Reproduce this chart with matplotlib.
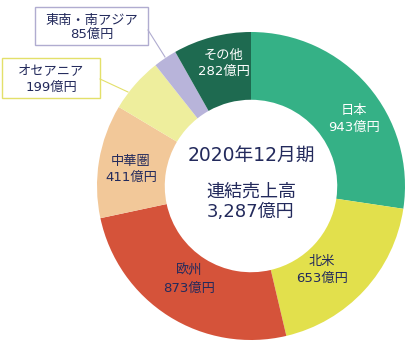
import matplotlib.pyplot as plt
from matplotlib.patches import Rectangle

# DejaVu for the wide latin digits, Noto CJK for the kanji / kana
plt.rcParams['font.family'] = ['DejaVu Sans', 'Noto Sans CJK JP']

# Sales by region (億円)
regions = ['日本', '北米', '欧州', '中華圏', 'オセアニア', '東南・南アジア', 'その他']
sales = [943, 653, 873, 411, 199, 85, 282]
colors = ['#35b186', '#e2e04c', '#d5533a', '#f2c899', '#eeee9d', '#b8b4da', '#1e6a50']
text_colors = ['white', '#232a5c', '#232a5c', '#232a5c', '#232a5c', '#232a5c', 'white']

W, H = 410, 347
fig = plt.figure(figsize=(W / 100, H / 100), dpi=100)
ax = fig.add_axes([0, 0, 1, 1])

cx, cy, R = 251, H - 186, 154
ax.pie(sales, colors=colors, startangle=90, counterclock=False,
       center=(cx, cy), radius=R, wedgeprops=dict(width=R * 0.44, linewidth=0))
ax.set_xlim(0, W)
ax.set_ylim(0, H)
ax.set_aspect('auto')
ax.axis('off')

navy = '#232a5c'


def two_lines(x, y1, y2, i, color):
    ax.text(x, H - y1, regions[i], ha='center', va='center', fontsize=9.5, color=color)
    ax.text(x, H - y2, f'{sales[i]}億円', ha='center', va='center', fontsize=9.5, color=color)


# labels inside the ring (image coords: x, first line y, second line y)
inside = {0: (354, 110, 127), 1: (322, 262, 278), 2: (189, 271, 288),
          3: (131, 161, 177), 6: (224, 55, 71)}
for i, (x, y1, y2) in inside.items():
    two_lines(x, y1, y2, i, text_colors[i])

# callout boxes for small segments
boxes = {5: ((35, 7, 113, 38), '#b0acd0', (148, 30), (165, 57), (20, 34)),
         4: ((2, 58, 98, 40), '#e3e06a', (100, 79), (128, 92), (71, 87))}
for i, ((bx, by, bw, bh), ec, p0, p1, (y1, y2)) in boxes.items():
    ax.add_patch(Rectangle((bx, H - by - bh), bw, bh, facecolor='white',
                           edgecolor=ec, linewidth=1))
    ax.plot([p0[0], p1[0]], [H - p0[1], H - p1[1]], color=ec, linewidth=0.8)
    two_lines(bx + bw / 2, y1, y2, i, navy)

# centre text
ax.text(cx, H - 155, '2020年12月期', ha='center', va='center', fontsize=13.5, color=navy)
ax.text(cx, H - 192, '連結売上高', ha='center', va='center', fontsize=13, color=navy)
ax.text(cx, H - 212, '3,287億円', ha='center', va='center', fontsize=13, color=navy)

fig.savefig('out.png', dpi=100)
